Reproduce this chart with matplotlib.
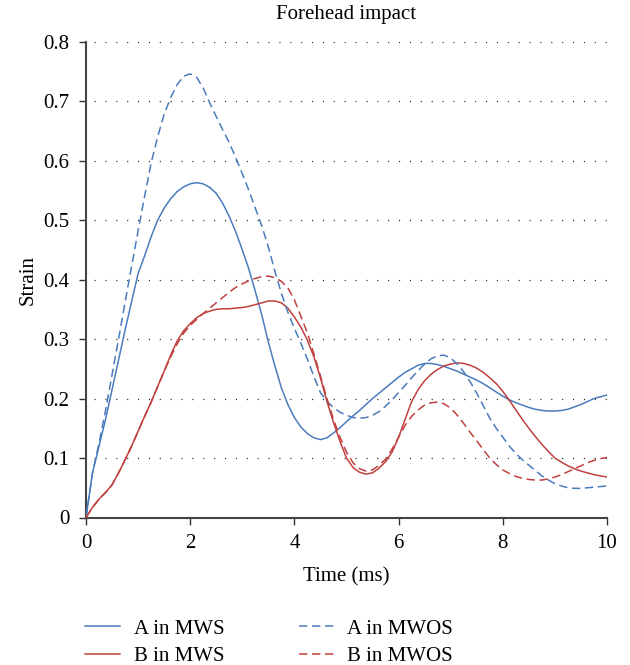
import matplotlib
matplotlib.use('Agg')
from matplotlib import pyplot as plt
import numpy as np

plt.rcParams['font.family'] = ['Liberation Serif', 'DejaVu Serif']

# sampled every 0.125 ms
time = np.linspace(0, 10, 81)

a_mws = [0, 0.075, 0.12, 0.165, 0.215, 0.265, 0.315, 0.363, 0.41, 0.44, 0.472, 0.5, 0.52, 0.536, 0.548, 0.556,
         0.561, 0.563, 0.561, 0.555, 0.545, 0.528, 0.506, 0.48, 0.45, 0.418, 0.38, 0.34, 0.295, 0.255, 0.218, 0.19,
         0.168, 0.152, 0.141, 0.134, 0.131, 0.134, 0.142, 0.151, 0.161, 0.171, 0.18, 0.19, 0.2, 0.209, 0.218, 0.227,
         0.236, 0.244, 0.25, 0.256, 0.259, 0.259, 0.257, 0.254, 0.25, 0.246, 0.241, 0.236, 0.231, 0.225, 0.218, 0.211,
         0.204, 0.198, 0.193, 0.189, 0.185, 0.182, 0.18, 0.179, 0.179, 0.18, 0.182, 0.186, 0.19, 0.195, 0.2, 0.203,
         0.206]

a_mwos = [0, 0.075, 0.125, 0.18, 0.24, 0.3, 0.362, 0.422, 0.482, 0.54, 0.596, 0.64, 0.678, 0.706, 0.728, 0.742,
          0.746, 0.74, 0.722, 0.697, 0.674, 0.652, 0.63, 0.605, 0.578, 0.55, 0.52, 0.49, 0.455, 0.414, 0.377, 0.345,
          0.318, 0.293, 0.266, 0.237, 0.21, 0.195, 0.185, 0.177, 0.172, 0.168, 0.167, 0.168, 0.172, 0.178, 0.187, 0.198,
          0.21, 0.222, 0.235, 0.247, 0.258, 0.267, 0.272, 0.273, 0.268, 0.258, 0.245, 0.228, 0.209, 0.188, 0.167, 0.15,
          0.135, 0.12, 0.108, 0.097, 0.088, 0.079, 0.07, 0.063, 0.057, 0.053, 0.05, 0.049, 0.049, 0.05, 0.051, 0.052,
          0.053]

b_mws = [0, 0.017, 0.031, 0.042, 0.055, 0.075, 0.097, 0.12, 0.145, 0.17, 0.194, 0.22, 0.246, 0.273, 0.297, 0.314,
         0.326, 0.336, 0.343, 0.347, 0.35, 0.351, 0.351, 0.352, 0.353, 0.355, 0.358, 0.361, 0.364, 0.364, 0.361, 0.352,
         0.337, 0.32, 0.298, 0.27, 0.235, 0.195, 0.16, 0.128, 0.1, 0.084, 0.076, 0.073, 0.075, 0.083, 0.094, 0.11,
         0.135, 0.165, 0.195, 0.215, 0.23, 0.241, 0.249, 0.255, 0.258, 0.26, 0.259, 0.256, 0.251, 0.244, 0.235, 0.225,
         0.212, 0.197, 0.181, 0.165, 0.15, 0.136, 0.123, 0.111, 0.1, 0.093, 0.087, 0.082, 0.078, 0.075, 0.072, 0.07,
         0.068]

b_mwos = [0, 0.017, 0.031, 0.042, 0.055, 0.075, 0.097, 0.12, 0.145, 0.17, 0.194, 0.22, 0.246, 0.27, 0.292, 0.31,
          0.323, 0.333, 0.343, 0.352, 0.361, 0.37, 0.379, 0.387, 0.393, 0.398, 0.402, 0.405, 0.406, 0.403, 0.397, 0.386,
          0.366, 0.338, 0.31, 0.275, 0.238, 0.2, 0.165, 0.135, 0.11, 0.092, 0.082, 0.078, 0.08, 0.088, 0.098, 0.115,
          0.135, 0.155, 0.17, 0.181, 0.189, 0.193, 0.194, 0.191, 0.184, 0.172, 0.158, 0.143, 0.129, 0.114, 0.1, 0.089,
          0.08, 0.074, 0.069, 0.066, 0.064, 0.063, 0.063, 0.065, 0.068, 0.072, 0.077, 0.082, 0.087, 0.092, 0.096, 0.099,
          0.101]

x_ticks = [0, 2, 4, 6, 8, 10]
y_ticks = [0, 0.1, 0.2, 0.3, 0.4, 0.5, 0.6, 0.7, 0.8]
y_labels = ['0', '0.1', '0.2', '0.3', '0.4', '0.5', '0.6', '0.7', '0.8']

blue = '#4a7bbd'
red = '#c0403f'
dash = (0, (5.5, 3))
fs = 15

fig = plt.figure(figsize=(6.3, 6.65), dpi=100)
ax = fig.add_axes([86 / 630, 1 - 517.5 / 665, 521 / 630, 475.8 / 665])

for y in y_ticks[1:]:
    ax.plot([0.15, 10], [y, y], color='#222222', lw=0.9, ls=(0, (0.9, 7.8)), zorder=1)

ax.plot(time, a_mws, color=blue, lw=1.1, label='A in MWS', zorder=3)
ax.plot(time, b_mws, color=red, lw=1.1, label='B in MWS', zorder=3)
ax.plot(time, a_mwos, color=blue, lw=1.1, ls=dash, label='A in MWOS', zorder=3)
ax.plot(time, b_mwos, color=red, lw=1.1, ls=dash, label='B in MWOS', zorder=3)

ax.set_xlim(0, 10)
ax.set_ylim(0, 0.8)
ax.set_xticks(x_ticks)
ax.set_yticks(y_ticks)
ax.set_yticklabels(y_labels)
ax.tick_params(direction='out', length=5, width=1.0, color='#333333', labelsize=fs, pad=7)

for s in ['top', 'right']:
    ax.spines[s].set_visible(False)
for s in ['left', 'bottom']:
    ax.spines[s].set_color('#444444')
    ax.spines[s].set_linewidth(1.5)

ax.set_title('Forehead impact', fontsize=fs, pad=16)
ax.set_xlabel('Time (ms)', fontsize=fs, labelpad=10)
ax.set_ylabel('Strain', fontsize=fs, labelpad=4)

fig.legend(loc='upper left', bbox_to_anchor=(85 / 630, 1 - 619 / 665), ncol=2, frameon=False,
           fontsize=fs, handlelength=1.68, handletextpad=0.67, columnspacing=3.55,
           labelspacing=0.37, borderaxespad=0, borderpad=0)

plt.savefig('out.png', dpi=100)
